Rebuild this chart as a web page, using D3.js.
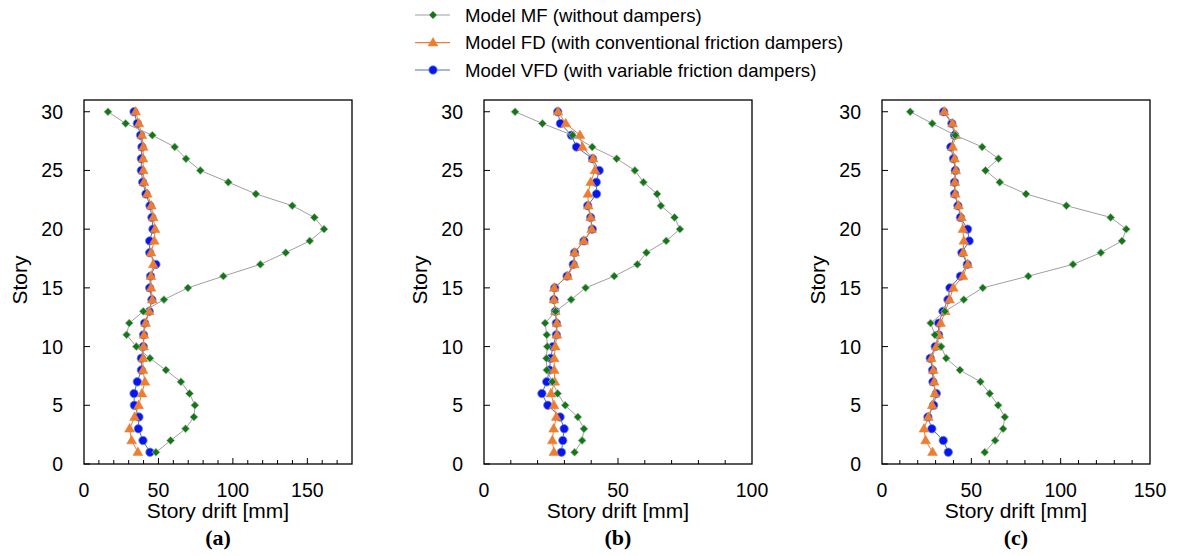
<!DOCTYPE html>
<html>
<head>
<meta charset="utf-8">
<script src="https://cdn.jsdelivr.net/npm/d3@7"></script>
<style>
  html, body { margin: 0; padding: 0; background: #fff; }
  svg { display: block; }
  text { font-family: Arial, "Liberation Sans", sans-serif; fill: #000; }
  .sub { font-family: "Times New Roman", "Liberation Serif", serif; font-weight: bold; }
</style>
</head>
<body>
<svg id="chart" width="1179" height="556"></svg>
<script>
// ---- data ----
const stories = [30,29,28,27,26,25,24,23,22,21,20,19,18,17,16,15,14,13,12,11,10,9,8,7,6,5,4,3,2,1];
const seriesNames = ["Model MF (without dampers)", "Model FD (with conventional friction dampers)", "Model VFD (with variable friction dampers)"];

// Panel (a)
const aMF  = [16.1,28.0,45.9,60.9,68.5,78.1,96.9,115.4,139.9,154.7,161.2,151.6,135.5,118.4,93.6,69.8,53.7,39.8,30.4,28.6,35.1,44.3,55.0,65.1,70.9,74.5,73.8,68.2,58.2,48.3];
const aFD  = [34.7,36.9,38.9,39.8,39.6,39.8,40.3,42.5,45.2,46.5,47.7,47.2,45.0,46.5,45.0,45.0,45.9,43.8,41.4,40.3,40.0,39.6,39.6,40.9,38.9,36.7,34.0,30.6,32.0,36.2];
const aVFD = [33.6,35.8,38.0,38.9,38.5,38.5,39.4,41.6,44.3,45.6,46.3,44.1,44.1,48.3,44.7,44.1,45.6,43.8,40.7,40.0,39.8,38.5,38.5,35.8,33.6,33.8,36.9,36.5,39.6,44.3];

// Panel (b)
const bMF  = [11.6,21.8,33.0,40.4,49.5,56.3,59.5,64.6,66.0,71.1,73.1,68.0,60.6,57.2,48.6,37.9,32.5,26.7,22.8,23.4,23.6,23.3,23.4,25.5,27.5,30.3,35.0,37.3,36.6,33.8];
const bFD  = [27.6,30.5,35.8,36.7,40.7,41.4,39.8,38.8,38.9,39.8,40.2,37.2,33.8,33.7,31.2,26.2,26.1,26.6,27.2,27.2,26.6,26.2,26.2,26.4,25.0,26.1,27.0,26.0,25.5,26.1];
const bVFD = [27.5,28.5,32.6,34.5,40.5,43.0,41.9,42.0,38.7,39.8,40.4,37.3,33.8,33.3,31.0,26.4,26.1,26.6,27.0,27.0,25.7,24.9,24.4,23.4,21.6,23.8,28.4,29.9,29.4,28.9];

// Panel (c)
const cMF  = [15.8,28.1,41.0,56.1,65.2,57.9,65.9,80.6,103.2,128.0,136.7,134.3,122.5,106.9,81.9,56.4,45.8,35.2,27.2,29.6,33.1,35.9,43.6,55.1,60.3,65.0,68.7,67.8,63.3,57.5];
const cFD  = [34.8,39.5,41.3,39.5,40.6,41.3,40.8,41.0,42.8,44.5,45.3,45.8,45.4,48.0,45.3,39.9,37.8,35.4,32.8,31.8,30.4,27.6,28.7,29.2,29.6,28.1,25.9,23.5,24.4,28.3];
const cVFD = [34.5,39.1,40.6,38.5,40.0,41.0,40.6,40.6,42.5,43.9,47.9,48.8,44.7,47.7,43.9,38.0,36.9,34.1,31.7,31.7,29.8,27.0,28.3,28.5,30.4,28.9,25.7,27.9,34.3,37.1];

const panelLabels = ["(a)", "(b)", "(c)"];
const xMaxes = [180, 100, 150];
const xTickLabelsA = [0, 50, 100, 150];
const xTickLabelsB = [0, 50, 100];
const xTickLabelsC = [0, 50, 100, 150];
const yTickLabels = [0, 5, 10, 15, 20, 25, 30];
const yMax = 31;
const xTitle = "Story drift [mm]";
const yTitle = "Story";

// ---- drawing ----
const svg = d3.select("#chart");
const colMF = "#0f7a12", colFD = "#ED7D31", colVFD = "#0a14f0";
const lineMF = "#a0a0a0", lineFD = "#ED7D31", lineVFD = "#4472C4";

const panels = [
  { left: 84,  MF: aMF, FD: aFD, VFD: aVFD, xmax: xMaxes[0], labels: xTickLabelsA, sub: panelLabels[0] },
  { left: 484, MF: bMF, FD: bFD, VFD: bVFD, xmax: xMaxes[1], labels: xTickLabelsB, sub: panelLabels[1] },
  { left: 882, MF: cMF, FD: cFD, VFD: cVFD, xmax: xMaxes[2], labels: xTickLabelsC, sub: panelLabels[2] }
];
const plotTop = 100, plotBottom = 464, W = 268;

const diamond = d3.symbol().type(d3.symbolDiamond2 || d3.symbolDiamond).size(40);
const tri = d3.symbol().type(d3.symbolTriangle).size(42);

panels.forEach(p => {
  const x = d3.scaleLinear().domain([0, p.xmax]).range([p.left, p.left + W]);
  const y = d3.scaleLinear().domain([0, yMax]).range([plotBottom, plotTop]);
  const g = svg.append("g");

  // x ticks (minor every 10, major at labels)
  const minor = d3.range(10, p.xmax, 10);
  g.selectAll(".xt").data(minor).enter().append("line")
    .attr("x1", d => x(d)).attr("x2", d => x(d))
    .attr("y1", plotBottom).attr("y2", d => plotBottom - (d % 50 === 0 ? 6 : 4))
    .attr("stroke", "#000").attr("stroke-width", 1);
  // y ticks
  g.selectAll(".yt").data(yTickLabels).enter().append("line")
    .attr("x1", p.left).attr("x2", p.left + 6)
    .attr("y1", d => y(d)).attr("y2", d => y(d))
    .attr("stroke", "#000").attr("stroke-width", 1);

  // frame
  g.append("rect").attr("x", p.left).attr("y", plotTop).attr("width", W).attr("height", plotBottom - plotTop)
    .attr("fill", "none").attr("stroke", "#000").attr("stroke-width", 1.3);

  // tick labels
  g.selectAll(".xl").data(p.labels).enter().append("text")
    .attr("x", d => x(d)).attr("y", 497).attr("text-anchor", "middle")
    .style("font-size", "19.5px").text(d => d);
  g.selectAll(".yl").data(yTickLabels).enter().append("text")
    .attr("x", p.left - 21).attr("y", d => y(d) + 7).attr("text-anchor", "end")
    .style("font-size", "19.5px").text(d => d);

  // titles
  g.append("text").attr("x", p.left + W / 2).attr("y", 518).attr("text-anchor", "middle")
    .style("font-size", "21px").text(xTitle);
  g.append("text").attr("transform", `translate(${p.left - 57},${(plotTop + plotBottom) / 2 - 2}) rotate(-90)`)
    .attr("text-anchor", "middle").style("font-size", "21px").text(yTitle);
  g.append("text").attr("class", "sub").attr("x", p.left + W / 2).attr("y", 545).attr("text-anchor", "middle")
    .style("font-size", "22px").text(p.sub);

  const line = d3.line().x(d => x(d[0])).y(d => y(d[1]));
  const pts = arr => arr.map((v, i) => [v, stories[i]]);

  // VFD
  g.append("path").datum(pts(p.VFD)).attr("d", line).attr("fill", "none").attr("stroke", lineVFD).attr("stroke-width", 1);
  g.selectAll(".vfd").data(pts(p.VFD)).enter().append("circle")
    .attr("cx", d => x(d[0])).attr("cy", d => y(d[1])).attr("r", 4.2)
    .attr("fill", colVFD).attr("stroke", "#6b8fd6").attr("stroke-width", 0.8);
  // FD
  g.append("path").datum(pts(p.FD)).attr("d", line).attr("fill", "none").attr("stroke", lineFD).attr("stroke-width", 1);
  g.selectAll(".fd").data(pts(p.FD)).enter().append("path")
    .attr("d", tri).attr("transform", d => `translate(${x(d[0])},${y(d[1]) + 0.5})`)
    .attr("fill", colFD).attr("stroke", colFD).attr("stroke-width", 0.5);
  // MF
  g.append("path").datum(pts(p.MF)).attr("d", line).attr("fill", "none").attr("stroke", lineMF).attr("stroke-width", 1);
  g.selectAll(".mf").data(pts(p.MF)).enter().append("path")
    .attr("d", diamond).attr("transform", d => `translate(${x(d[0])},${y(d[1])})`)
    .attr("fill", colMF).attr("stroke", "#b0b0b0").attr("stroke-width", 0.8);
});

// legend
const legY = [15, 42.7, 70];
const lg = svg.append("g");
const legendItems = [
  { name: seriesNames[0], line: lineMF, kind: "mf" },
  { name: seriesNames[1], line: lineFD, kind: "fd" },
  { name: seriesNames[2], line: lineVFD, kind: "vfd" }
];
legendItems.forEach((it, i) => {
  const cy = legY[i];
  lg.append("line").attr("x1", 415).attr("x2", 450).attr("y1", cy).attr("y2", cy)
    .attr("stroke", it.line).attr("stroke-width", 1.2);
  if (it.kind === "mf") {
    lg.append("path").attr("d", diamond).attr("transform", `translate(433,${cy})`)
      .attr("fill", colMF).attr("stroke", "#b0b0b0").attr("stroke-width", 0.8);
  } else if (it.kind === "fd") {
    lg.append("path").attr("d", tri).attr("transform", `translate(433,${cy + 0.5})`)
      .attr("fill", colFD).attr("stroke", colFD).attr("stroke-width", 0.5);
  } else {
    lg.append("circle").attr("cx", 433).attr("cy", cy).attr("r", 4.2)
      .attr("fill", colVFD).attr("stroke", "#6b8fd6").attr("stroke-width", 0.8);
  }
  lg.append("text").attr("x", 465).attr("y", cy + 6.6).style("font-size", "18.6px").text(it.name);
});
</script>
</body>
</html>
